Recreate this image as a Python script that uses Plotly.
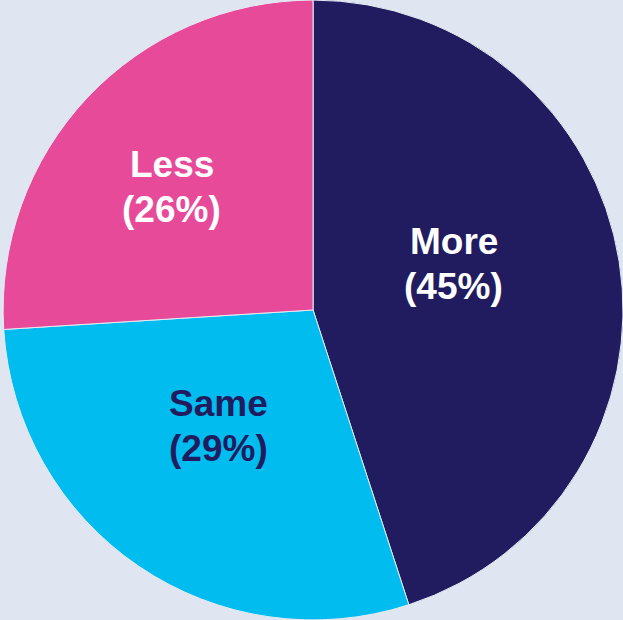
import plotly.graph_objects as go

categories = ["More", "Same", "Less"]
shares = [45, 29, 26]
slice_colors = ["#201c5f", "#00bcef", "#e84a9a"]
label_colors = ["#ffffff", "#201c5f", "#ffffff"]
# label anchor points in paper coordinates
label_pos = [(0.7287, 0.5742), (0.3515, 0.3137), (0.2753, 0.6976)]
line_gap = 22.5  # half the distance between the two label lines, px

fig = go.Figure(
    go.Pie(
        labels=categories,
        values=shares,
        textinfo="none",
        sort=False,
        direction="clockwise",
        rotation=0,
        marker=dict(colors=slice_colors, line=dict(color="#e6ebf4", width=1)),
        hoverinfo="label+percent",
        showlegend=False,
        domain=dict(x=[0.005, 1.0], y=[0.0, 1.0]),
    )
)

label_font = "Liberation Sans, Arial, sans-serif"
for cat, val, col, (px, py) in zip(categories, shares, label_colors, label_pos):
    for line, shift in ((f"<b>{cat}</b>", line_gap), (f"<b>({val}%)</b>", -line_gap)):
        fig.add_annotation(
            x=px, y=py, xref="paper", yref="paper",
            xanchor="center", yanchor="middle",
            yshift=shift,
            text=line,
            showarrow=False,
            font=dict(family=label_font, size=37, color=col),
        )

fig.update_layout(
    width=623,
    height=620,
    margin=dict(l=0, r=0, t=0, b=0),
    paper_bgcolor="#dfe6f1",
    plot_bgcolor="#dfe6f1",
)

fig.write_html("out.html")
